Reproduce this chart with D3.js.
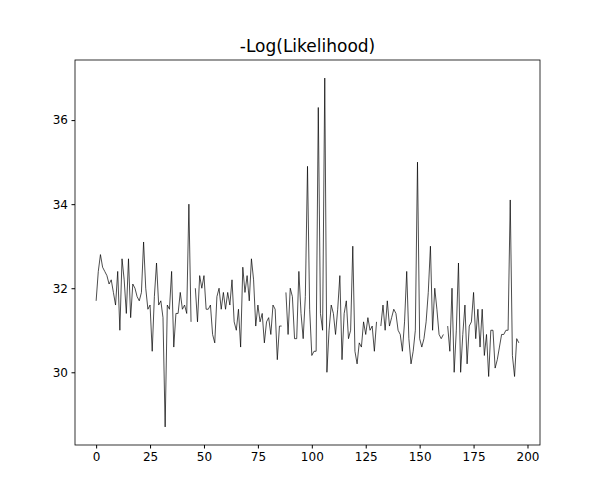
<!DOCTYPE html>
<html><head><meta charset="utf-8">
<script src="https://cdn.jsdelivr.net/npm/d3@7"></script>
<style>body{margin:0;background:#fff}</style>
</head><body>
<div id="chart"></div>
<script>
const title = "-Log(Likelihood)"
const xTicks = [0, 25, 50, 75, 100, 125, 150, 175, 200]
const yTicks = [30, 32, 34, 36]
// null = missing value (gap in line)
const values = [
  31.7, 32.4, 32.8, 32.5, 32.4, 32.3, 32.1, 32.2, 31.9, 31.6,
  32.4, 31.0, 32.7, 32.2, 31.4, 32.7, 31.3, 32.1, 32.0, 31.8,
  31.7, 31.9, 33.1, 32.0, 31.5, 31.6, 30.5, 31.8, 32.6, 31.6,
  31.7, 31.3, 28.7, 31.6, 31.5, 32.4, 30.6, 31.4, 31.4, 31.9,
  31.5, 31.6, 31.4, 34.0, 31.2, null, 32.0, 31.2, 32.3, 32.0,
  32.3, 31.5, 31.5, 31.6, 30.9, 30.7, 31.8, 32.0, 31.5, 31.9,
  31.5, 31.9, 31.6, 32.2, 31.2, 31.0, 31.5, 30.6, 32.5, 31.9,
  32.3, 31.7, 32.7, 32.2, 31.1, 31.6, 31.2, 31.4, 30.7, 31.2,
  31.3, 30.9, 31.6, 31.5, 30.3, 31.1, 31.1, null, 31.9, 30.9,
  32.0, 31.8, 30.8, 30.8, 32.4, 31.4, 30.8, 31.8, 34.9, 31.5,
  30.4, 30.5, 30.5, 36.3, 31.4, 31.0, 37.0, 30.0, 31.0, 31.6,
  31.4, 30.9, 31.5, 32.3, 30.3, 31.4, 31.7, 30.8, 31.0, 33.0,
  30.5, 30.2, 30.7, 30.6, 31.2, 30.9, 31.3, 31.0, 31.1, 30.5,
  31.2, null, 31.1, 31.6, 31.0, 31.7, 31.1, 31.3, 31.5, 31.4,
  31.0, 30.9, 30.5, 31.2, 32.4, 30.8, 30.2, 30.5, 31.0, 35.0,
  30.8, 30.6, 30.8, 31.2, 31.9, 33.0, 31.0, 32.0, 31.5, 30.9,
  30.8, 30.9, null, 31.1, 30.5, 32.0, 30.0, 31.0, 32.6, 30.0,
  30.9, 31.6, 30.2, 31.1, 31.2, 31.9, 30.8, 31.5, 30.6, 31.5,
  30.4, 30.9, 29.9, 31.0, 31.0, 30.1, 30.3, 30.6, 30.9, 30.9,
  31.0, 31.0, 34.1, 30.4, 29.9, 30.8, 30.7
]

const MARGIN = { TOP: 60, BOTTOM: 55, LEFT: 75, RIGHT: 60 }
const WIDTH = 600 - MARGIN.LEFT - MARGIN.RIGHT
const HEIGHT = 500 - MARGIN.TOP - MARGIN.BOTTOM

const svg = d3.select("#chart").append("svg")
    .attr("width", 600).attr("height", 500)
    .style("font-family", "DejaVu Sans")

const g = svg.append("g").attr("transform", `translate(${MARGIN.LEFT}, ${MARGIN.TOP})`)

const n = values.length
const x = d3.scaleLinear().domain([-0.05 * (n - 1), (n - 1) * 1.05]).range([0, WIDTH])
const y = d3.scaleLinear().domain([28.27, 37.43]).range([HEIGHT, 0])

const line = d3.line()
    .defined(d => d != null)
    .x((d, i) => x(i))
    .y(d => y(d))

g.append("path").datum(values)
    .attr("fill", "none").attr("stroke", "#000").attr("stroke-width", 0.7)
    .attr("d", line)

const xAxis = g.append("g").attr("transform", `translate(0, ${HEIGHT})`)
    .call(d3.axisBottom(x).tickValues(xTicks).tickSize(3.5).tickPadding(3.5))
const yAxis = g.append("g")
    .call(d3.axisLeft(y).tickValues(yTicks).tickSize(3.5).tickPadding(3.5))
;[xAxis, yAxis].forEach(a => {
  a.select(".domain").remove()
  a.selectAll("text").attr("font-size", 12).attr("font-family", "DejaVu Sans").attr("fill", "#000")
})

g.append("rect").attr("width", WIDTH).attr("height", HEIGHT)
    .attr("fill", "none").attr("stroke", "#000").attr("stroke-width", 0.8)

svg.append("text").attr("x", MARGIN.LEFT + WIDTH / 2).attr("y", MARGIN.TOP - 8)
    .attr("text-anchor", "middle").attr("font-size", 17).text(title)
</script>
</body></html>
